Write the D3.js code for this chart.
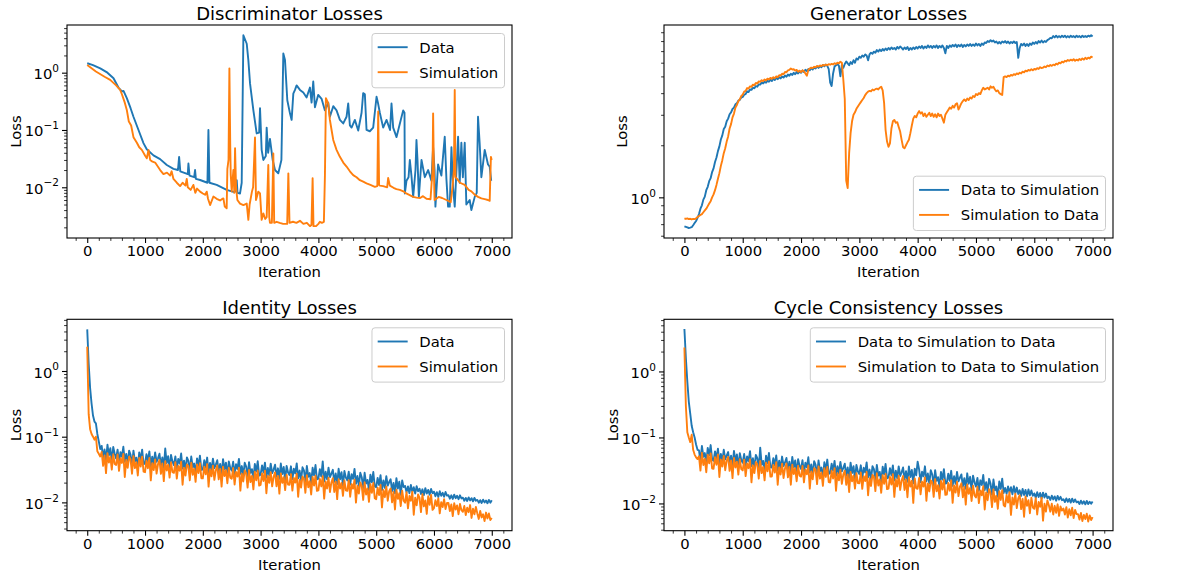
<!DOCTYPE html>
<html><head><meta charset="utf-8">
<script src="https://cdn.jsdelivr.net/npm/d3@7/dist/d3.min.js"></script>
<style>
body{margin:0;background:#fff;}
svg{display:block;font-family:"DejaVu Sans",sans-serif;}
</style></head><body>
<svg id="c" width="1188" height="580"></svg>
<script>
// ---------------- data ----------------
const xTickValues = [0,1000,2000,3000,4000,5000,6000,7000];
const xMinorTickValues = [-200,200,400,600,800,1200,1400,1600,1800,2200,2400,2600,2800,3200,3400,3600,3800,4200,4400,4600,4800,5200,5400,5600,5800,6200,6400,6600,6800,7200];
const yTickDecades = [1,0.1,0.01];
const colors = ["#1f77b4","#ff7f0e"];

// Discriminator losses: [iteration, loss]
const discData = [[0,1.46],[100,1.35],[225,1.19],[350,1.0],[455,0.8],[540,0.55],[600,0.47],[628,0.48],[685,0.36],[750,0.24],[800,0.17],[887,0.1],[973,0.059],[1030,0.046],[1146,0.036],[1261,0.031],[1377,0.0245],[1492,0.021],[1570,0.02],[1590,0.034],[1610,0.019],[1740,0.017],[1751,0.026],[1770,0.016],[1850,0.015],[1866,0.02],[1880,0.014],[1953,0.0134],[2080,0.012],[2097,0.1],[2115,0.012],[2240,0.011],[2413,0.009],[2529,0.0083],[2575,0.0085],[2587,0.0133],[2600,0.008],[2644,0.0078],[2673,0.012],[2702,4.5],[2760,3.2],[2788,1.66],[2817,0.65],[2875,0.22],[2932,0.087],[2975,0.09],[2990,0.24],[3005,0.1],[3018,0.045],[3047,0.03],[3090,0.035],[3105,0.11],[3130,0.04],[3162,0.07],[3209,0.03],[3249,0.02],[3306,0.0175],[3360,0.03],[3393,2.17],[3422,1.66],[3462,0.33],[3508,0.195],[3537,0.15],[3566,0.43],[3595,0.5],[3623,0.6],[3681,0.5],[3739,0.45],[3796,0.37],[3854,0.55],[3882,0.3],[3911,0.7],[3940,0.25],[3997,0.41],[4055,0.35],[4112,0.22],[4170,0.3],[4199,0.17],[4257,0.26],[4314,0.22],[4372,0.15],[4430,0.13],[4487,0.17],[4516,0.29],[4545,0.12],[4574,0.11],[4631,0.15],[4689,0.098],[4747,0.2],[4775,0.44],[4804,0.42],[4833,0.1],[4890,0.095],[4948,0.11],[5006,0.38],[5030,0.3],[5063,0.2],[5121,0.11],[5179,0.15],[5240,0.1],[5265,0.29],[5294,0.11],[5352,0.075],[5410,0.13],[5467,0.22],[5490,0.2],[5496,0.0078],[5524,0.013],[5560,0.015],[5582,0.03],[5610,0.016],[5640,0.0068],[5680,0.02],[5697,0.067],[5715,0.03],[5738,0.0068],[5784,0.03],[5841,0.015],[5899,0.02],[5956,0.013],[5985,0.05],[6010,0.02],[6025,0.0046],[6071,0.025],[6128,0.016],[6186,0.076],[6215,0.014],[6244,0.0046],[6273,0.0046],[6302,0.05],[6330,0.01],[6359,0.0046],[6417,0.076],[6445,0.012],[6474,0.06],[6500,0.015],[6532,0.06],[6560,0.005],[6618,0.006],[6647,0.004],[6705,0.0068],[6740,0.008],[6762,0.17],[6790,0.06],[6820,0.015],[6878,0.045],[6935,0.025],[6964,0.023],[6990,0.013]];
const discSim = [[0,1.36],[150,1.05],[300,0.85],[397,0.75],[500,0.6],[570,0.5],[600,0.42],[650,0.3],[686,0.22],[720,0.14],[760,0.12],[800,0.075],[859,0.06],[900,0.05],[945,0.045],[1000,0.036],[1031,0.032],[1060,0.045],[1089,0.03],[1130,0.028],[1175,0.027],[1262,0.02],[1319,0.017],[1380,0.018],[1434,0.016],[1460,0.019],[1492,0.014],[1550,0.012],[1607,0.0105],[1650,0.012],[1700,0.0107],[1722,0.014],[1740,0.01],[1790,0.009],[1837,0.011],[1870,0.008],[1900,0.0095],[1953,0.0084],[2000,0.0078],[2040,0.0074],[2068,0.0084],[2090,0.0063],[2126,0.0049],[2183,0.0069],[2240,0.0063],[2298,0.0059],[2330,0.0062],[2356,0.0064],[2380,0.0046],[2413,0.0043],[2425,0.021],[2445,0.03],[2460,1.19],[2475,0.05],[2483,0.017],[2500,0.0085],[2529,0.02],[2545,0.008],[2558,0.048],[2575,0.01],[2598,0.006],[2644,0.0052],[2702,0.0049],[2760,0.0052],[2788,0.0027],[2810,0.005],[2850,0.0084],[2870,0.01],[2903,0.074],[2920,0.006],[2960,0.0084],[2990,0.0078],[3018,0.0027],[3047,0.0035],[3080,0.0028],[3105,0.003],[3133,0.0245],[3150,0.003],[3162,0.0024],[3195,0.0024],[3220,0.039],[3235,0.0024],[3278,0.0025],[3330,0.0024],[3390,0.0023],[3460,0.0023],[3480,0.0175],[3500,0.0024],[3560,0.0025],[3620,0.0024],[3681,0.0026],[3740,0.0023],[3800,0.0024],[3854,0.0021],[3880,0.0022],[3900,0.0144],[3915,0.0021],[3960,0.0021],[4000,0.0023],[4026,0.0025],[4060,0.0024],[4095,0.0025],[4113,0.016],[4130,0.36],[4170,0.29],[4199,0.15],[4228,0.1],[4257,0.067],[4314,0.045],[4372,0.034],[4430,0.027],[4487,0.023],[4545,0.019],[4602,0.0163],[4660,0.015],[4718,0.0133],[4775,0.0125],[4833,0.0117],[4900,0.011],[4977,0.0102],[5020,0.0105],[5035,0.21],[5050,0.011],[5063,0.0107],[5121,0.0105],[5190,0.01],[5207,0.0145],[5236,0.0107],[5300,0.0098],[5350,0.0093],[5409,0.009],[5470,0.0085],[5520,0.0078],[5580,0.0073],[5640,0.0068],[5700,0.0066],[5760,0.0065],[5810,0.007],[5870,0.0063],[5940,0.0062],[5975,0.02],[5985,0.195],[5998,0.02],[6010,0.006],[6080,0.0068],[6140,0.0065],[6215,0.006],[6290,0.0055],[6320,0.01],[6330,0.013],[6345,0.02],[6359,0.5],[6372,0.015],[6400,0.014],[6450,0.012],[6532,0.011],[6600,0.009],[6647,0.0085],[6700,0.0075],[6762,0.0068],[6820,0.0064],[6878,0.0062],[6935,0.006],[6964,0.0058],[6985,0.034],[6998,0.03]];

// Generator / identity / cycle losses: one value every iterStep iterations, 0..7000
const iterStep = 25;
const genDataToSim = [0.68,0.675,0.67,0.665,0.668,0.672,0.69,0.71,0.73,0.76,
0.8,0.86,0.9,0.97,1.01,1.1,1.15,1.24,1.29,1.4,
1.47,1.6,1.7,1.85,1.97,2.16,2.28,2.48,2.56,2.75,
2.85,3.02,3.1,3.24,3.3,3.45,3.5,3.62,3.66,3.78,
3.8,3.92,3.95,4.1,4.06,4.2,4.18,4.3,4.27,4.4,
4.36,4.5,4.48,4.6,4.55,4.65,4.6,4.72,4.66,4.78,
4.7,4.85,4.76,4.9,4.82,4.95,4.87,5.0,4.92,5.06,
4.98,5.12,5.05,5.18,5.1,5.24,5.15,5.3,5.2,5.35,
5.25,5.4,5.3,5.46,5.36,5.52,5.42,5.58,5.48,5.62,
5.55,5.7,5.6,5.75,5.65,5.82,5.72,5.85,5.75,5.5,
4.6,4.4,5.2,5.7,5.8,5.9,5.75,5.0,5.8,5.6,
5.9,6.1,5.95,5.8,6.05,5.9,6.2,6.0,6.35,6.25,
6.5,6.4,6.6,6.5,6.7,6.6,6.2,6.7,6.85,6.75,
6.95,6.85,7.1,6.95,7.15,7.0,7.2,7.05,7.25,7.1,
7.3,7.15,7.35,7.2,7.3,7.15,7.4,7.25,7.45,7.3,
7.15,7.35,7.2,7.4,7.1,7.3,7.15,7.35,7.2,7.4,
7.25,7.45,7.3,7.5,7.25,7.45,7.3,7.55,7.35,7.5,
7.3,7.5,7.35,7.55,7.3,7.5,7.35,7.55,7.3,6.8,
7.5,7.3,7.55,7.4,7.6,7.45,7.65,7.4,7.6,7.45,
7.65,7.4,7.6,7.45,7.65,7.5,7.7,7.5,7.65,7.5,
7.75,7.55,7.7,7.5,7.75,7.6,7.85,7.8,8.0,7.9,
8.1,7.95,8.05,7.85,7.95,7.75,7.9,7.75,7.95,7.85,
8.0,7.8,7.95,7.75,7.9,7.8,7.95,7.8,7.9,6.4,
7.3,7.7,7.55,7.75,7.5,7.7,7.5,7.75,7.6,7.85,
7.7,7.9,7.75,8.0,7.85,8.05,7.85,8.0,7.9,8.1,
8.2,8.35,8.3,8.55,8.4,8.6,8.4,8.55,8.4,8.6,
8.45,8.6,8.4,8.55,8.4,8.6,8.45,8.55,8.4,8.6,
8.45,8.55,8.4,8.6,8.45,8.55,8.45,8.6,8.5,8.65,
8.5];
const genSimToData = [0.756,0.75,0.755,0.748,0.752,0.745,0.75,0.748,0.755,0.77,
0.78,0.79,0.8,0.82,0.84,0.86,0.89,0.92,0.95,1.0,
1.04,1.1,1.18,1.28,1.38,1.52,1.64,1.8,1.92,2.1,
2.25,2.5,2.65,2.9,3.05,3.3,3.42,3.6,3.68,3.85,
3.92,4.08,4.12,4.28,4.25,4.38,4.35,4.48,4.45,4.58,
4.55,4.68,4.65,4.75,4.7,4.8,4.74,4.85,4.8,4.9,
4.84,4.95,4.88,5.0,4.95,5.08,5.05,5.18,5.15,5.3,
5.28,5.42,5.45,5.55,5.48,5.5,5.4,5.45,5.32,5.4,
5.3,5.42,5.35,5.2,5.05,5.45,5.55,5.62,5.58,5.68,
5.65,5.75,5.7,5.78,5.74,5.82,5.78,5.85,5.8,5.88,
5.84,5.9,5.86,5.95,5.9,6.0,5.95,6.08,6.0,4.8,
3.7,1.25,1.13,1.8,2.35,2.75,3.0,3.1,3.25,3.35,
3.45,3.55,3.65,3.75,3.9,4.0,4.08,4.12,4.1,4.2,
4.15,4.22,4.25,4.2,4.3,4.36,4.15,3.5,2.45,2.1,
1.96,2.05,2.5,2.75,2.8,2.7,2.72,2.55,2.4,2.15,
1.95,1.92,2.0,2.08,2.15,2.35,2.6,2.85,2.95,2.9,
3.05,3.15,3.05,3.1,2.95,3.05,2.92,3.0,3.08,2.95,
3.05,2.92,3.02,2.9,3.05,2.95,3.0,2.85,2.7,3.0,
3.1,3.2,3.3,3.25,3.38,3.3,3.45,3.5,3.22,3.35,
3.5,3.6,3.68,3.6,3.72,3.65,3.78,3.72,3.85,3.8,
3.95,3.9,4.0,3.95,4.15,4.3,4.2,4.25,4.3,4.2,
4.38,4.3,4.35,4.2,4.1,4.15,4.0,3.95,3.9,4.95,
5.0,4.95,5.05,5.0,5.1,5.05,5.15,5.1,5.2,5.15,
5.25,5.2,5.32,5.28,5.4,5.35,5.45,5.4,5.5,5.42,
5.52,5.48,5.58,5.52,5.65,5.58,5.62,5.7,5.65,5.78,
5.72,5.82,5.75,5.85,5.8,5.92,5.86,6.0,5.95,6.08,
6.02,6.15,6.1,6.22,6.15,6.25,6.18,6.28,6.15,6.25,
6.18,6.3,6.22,6.35,6.25,6.4,6.3,6.42,6.35,6.5,
6.45];
const identData = [4.3,1.3,0.55,0.32,0.21,0.17,0.16,0.11,0.085,0.065,
0.0725,0.0476,0.0638,0.0441,0.0754,0.0522,0.0667,0.0418,0.0696,0.0551,
0.0468,0.0634,0.0406,0.0582,0.0494,0.0702,0.0416,0.0546,0.0385,0.0614,
0.0528,0.036,0.0614,0.0422,0.048,0.0336,0.0576,0.0442,0.0634,0.0384,
0.0391,0.0543,0.0423,0.0598,0.0354,0.0497,0.0382,0.0575,0.0414,0.0469,
0.055,0.0361,0.0484,0.0334,0.066,0.0396,0.0506,0.0317,0.0528,0.0418,
0.0369,0.05,0.032,0.0459,0.039,0.0554,0.0328,0.0431,0.0303,0.0484,
0.0429,0.0293,0.0499,0.0343,0.039,0.0273,0.0468,0.0359,0.0515,0.0312,
0.0315,0.0437,0.034,0.0481,0.0285,0.04,0.0307,0.0463,0.0333,0.0377,
0.0438,0.0287,0.0385,0.0266,0.0455,0.0315,0.0403,0.0252,0.042,0.0333,
0.0306,0.0415,0.0265,0.0381,0.0323,0.0459,0.0272,0.0357,0.0252,0.0401,
0.0352,0.024,0.041,0.0282,0.032,0.0224,0.0384,0.0294,0.0422,0.0256,
0.0264,0.0366,0.0285,0.0403,0.0239,0.0335,0.0257,0.0388,0.0279,0.0316,
0.0375,0.0246,0.033,0.0228,0.039,0.027,0.0345,0.0216,0.036,0.0285,
0.0261,0.0354,0.0226,0.0325,0.0276,0.0392,0.0232,0.0305,0.0215,0.0342,
0.0308,0.021,0.0358,0.0246,0.028,0.0196,0.0336,0.0258,0.037,0.0224,
0.023,0.0319,0.0248,0.042,0.0208,0.0292,0.0224,0.0338,0.0243,0.0275,
0.0313,0.0205,0.0275,0.019,0.0325,0.0225,0.0288,0.018,0.03,0.0238,
0.0216,0.0293,0.0187,0.0269,0.0228,0.0324,0.0192,0.0252,0.0178,0.0283,
0.0242,0.0165,0.0282,0.0194,0.022,0.0154,0.0264,0.0202,0.029,0.0176,
0.017,0.0236,0.0184,0.026,0.0154,0.0216,0.0166,0.025,0.018,0.0204,
0.0225,0.0148,0.0198,0.0137,0.0234,0.0162,0.0207,0.013,0.0216,0.0171,
0.0178,0.0142,0.0175,0.0138,0.0184,0.0145,0.017,0.0136,0.0176,0.0148,
0.0162,0.0134,0.0158,0.0129,0.0165,0.0136,0.0155,0.0131,0.016,0.0138,
0.0145,0.0124,0.0143,0.0121,0.0148,0.0126,0.014,0.0122,0.0144,0.0127,
0.0129,0.0114,0.0128,0.0113,0.0131,0.0116,0.0126,0.0112,0.0128,0.0115,
0.0118,0.0106,0.0117,0.0105,0.0119,0.0107,0.0116,0.0104,0.0117,0.0106,
0.0109,0.0099,0.0108,0.0098,0.011,0.01,0.0107,0.0097,0.0109,0.0099,
0.0108];
const identSim = [2.35,0.22,0.13,0.11,0.1,0.09,0.1,0.06,0.055,0.05,
0.0585,0.036,0.0518,0.0279,0.0563,0.0405,0.0495,0.0315,0.054,0.0383,
0.037,0.0538,0.0302,0.047,0.0399,0.0546,0.0244,0.0441,0.0336,0.0496,
0.0449,0.0273,0.0507,0.0332,0.041,0.0257,0.0476,0.0351,0.0495,0.0293,
0.0288,0.0432,0.0331,0.0475,0.0216,0.0396,0.031,0.045,0.0274,0.0382,
0.0442,0.0272,0.0391,0.0211,0.0425,0.0306,0.0374,0.0238,0.0408,0.0289,
0.0282,0.041,0.023,0.0358,0.0304,0.0416,0.0186,0.0336,0.0256,0.0378,
0.0357,0.0217,0.0403,0.0264,0.0326,0.0205,0.0378,0.0279,0.0394,0.0233,
0.0232,0.0348,0.0267,0.0383,0.0174,0.0319,0.0249,0.0363,0.022,0.0307,
0.0364,0.0224,0.0322,0.0174,0.035,0.0252,0.0308,0.0196,0.0336,0.0238,
0.0229,0.0333,0.0187,0.0291,0.0247,0.0338,0.0151,0.0273,0.0208,0.0307,
0.0276,0.0168,0.0312,0.0204,0.0252,0.0158,0.0293,0.0216,0.0305,0.018,
0.0184,0.0276,0.0212,0.0304,0.0138,0.0253,0.0198,0.0288,0.0175,0.0244,
0.0286,0.0176,0.0253,0.0136,0.0275,0.0198,0.0242,0.0154,0.0264,0.0187,
0.0185,0.0269,0.0151,0.0235,0.02,0.0273,0.0122,0.0221,0.0168,0.0248,
0.023,0.014,0.026,0.017,0.021,0.0132,0.0244,0.018,0.0254,0.015,
0.0152,0.0228,0.0175,0.0251,0.0114,0.0209,0.0163,0.0238,0.0144,0.0201,
0.0234,0.0144,0.0207,0.0112,0.0225,0.0162,0.0198,0.0126,0.0216,0.0153,
0.015,0.0218,0.0122,0.019,0.0162,0.0221,0.0099,0.0179,0.0136,0.0201,
0.0178,0.0109,0.0202,0.0132,0.0163,0.0102,0.0189,0.014,0.0197,0.0116,
0.0112,0.0168,0.0129,0.0185,0.0084,0.0154,0.012,0.0175,0.0106,0.0148,
0.0163,0.01,0.0144,0.0078,0.0156,0.0113,0.0138,0.0088,0.015,0.0106,
0.0099,0.0143,0.0081,0.0125,0.0106,0.0146,0.0065,0.0118,0.009,0.0132,
0.0117,0.0071,0.0133,0.0087,0.0107,0.0067,0.0124,0.0092,0.013,0.0077,
0.0082,0.0108,0.0088,0.0115,0.0068,0.0101,0.0085,0.0112,0.0079,0.0098,
0.0098,0.0074,0.0093,0.0062,0.0097,0.0078,0.009,0.0066,0.0095,0.0076,
0.0072,0.0088,0.0064,0.0083,0.0071,0.0091,0.0058,0.008,0.0066,0.0085,
0.0068,0.0056,0.0074,0.0059,0.0066,0.0052,0.007,0.0057,0.0068,0.0054,
0.0058];
const cycleData = [4.4,1.6,0.7,0.35,0.23,0.15,0.12,0.1,0.078,0.065,
0.0638,0.0435,0.0742,0.051,0.058,0.0406,0.0696,0.0534,0.0766,0.0464,
0.0442,0.0614,0.0478,0.0676,0.04,0.0562,0.0432,0.065,0.0468,0.053,
0.06,0.0394,0.0528,0.0365,0.0624,0.0432,0.0552,0.0346,0.0576,0.0456,
0.0414,0.0561,0.0359,0.0515,0.0437,0.0621,0.0368,0.0483,0.034,0.0543,
0.0484,0.033,0.07,0.0387,0.044,0.0308,0.0528,0.0405,0.0581,0.0352,
0.0349,0.0484,0.0377,0.0533,0.0316,0.0443,0.034,0.0513,0.0369,0.0418,
0.0488,0.032,0.0429,0.0296,0.0507,0.0351,0.0449,0.0281,0.0468,0.0371,
0.0333,0.0451,0.0289,0.0414,0.0352,0.05,0.0296,0.0389,0.0274,0.0437,
0.0385,0.0263,0.0448,0.0308,0.035,0.0245,0.042,0.0322,0.0462,0.028,
0.0289,0.0401,0.0313,0.0442,0.0262,0.0367,0.0282,0.0425,0.0306,0.0347,
0.04,0.0262,0.0352,0.0243,0.0416,0.0288,0.0368,0.023,0.0384,0.0304,
0.0279,0.0378,0.0242,0.0347,0.0295,0.0419,0.0248,0.0326,0.0229,0.0366,
0.033,0.0225,0.0384,0.0264,0.03,0.021,0.036,0.0276,0.0396,0.024,
0.0247,0.0342,0.0267,0.0377,0.0223,0.0313,0.0241,0.0363,0.0261,0.0296,
0.035,0.023,0.0308,0.0213,0.0364,0.0252,0.0322,0.0202,0.0336,0.0266,
0.043,0.0329,0.0211,0.0302,0.0257,0.0365,0.0216,0.0284,0.02,0.0319,
0.0275,0.0188,0.032,0.022,0.025,0.0175,0.03,0.023,0.033,0.02,
0.0204,0.0283,0.0221,0.0312,0.0185,0.0259,0.0199,0.03,0.0216,0.0245,
0.0275,0.018,0.0242,0.0167,0.0286,0.0198,0.0253,0.0158,0.0264,0.0209,
0.018,0.0244,0.0156,0.0224,0.019,0.027,0.016,0.021,0.0148,0.0236,
0.0198,0.0135,0.023,0.0158,0.018,0.0126,0.0216,0.0166,0.0238,0.0144,
0.0172,0.014,0.0181,0.0145,0.0176,0.0137,0.0183,0.0142,0.0174,0.0139,
0.0158,0.013,0.0166,0.0134,0.016,0.0128,0.0163,0.0133,0.0157,0.0131,
0.0142,0.0122,0.0148,0.0125,0.0144,0.0119,0.0146,0.0123,0.0141,0.012,
0.0127,0.0113,0.0131,0.0115,0.0128,0.011,0.013,0.0114,0.0126,0.0112,
0.0116,0.0105,0.0119,0.0106,0.0117,0.0103,0.0118,0.0105,0.0115,0.0104,
0.0107,0.0098,0.011,0.0099,0.0108,0.0097,0.0109,0.0098,0.0106,0.0099,
0.0107];
const cycleSim = [2.3,0.3,0.12,0.1,0.085,0.11,0.065,0.055,0.05,0.047,
0.0518,0.0315,0.0585,0.0383,0.0473,0.0297,0.0549,0.0405,0.0572,0.0338,
0.0336,0.0504,0.0386,0.0554,0.0252,0.0462,0.0361,0.0525,0.0319,0.0445,
0.0507,0.0312,0.0449,0.0242,0.0488,0.0351,0.0429,0.0273,0.0468,0.0332,
0.0317,0.0461,0.0259,0.0403,0.0342,0.0468,0.0209,0.0378,0.0288,0.0425,
0.0391,0.0238,0.0442,0.0289,0.0357,0.0224,0.0415,0.0306,0.0432,0.0255,
0.0256,0.0384,0.0294,0.0422,0.0192,0.0352,0.0275,0.04,0.0243,0.0339,
0.0403,0.0248,0.0357,0.0192,0.0388,0.0279,0.0341,0.0217,0.0372,0.0264,
0.0255,0.0371,0.0209,0.0325,0.0276,0.0377,0.0168,0.0305,0.0232,0.0342,
0.0322,0.0196,0.0364,0.0238,0.0294,0.0185,0.0342,0.0252,0.0356,0.021,
0.0208,0.0312,0.0239,0.0343,0.0156,0.0286,0.0224,0.0325,0.0198,0.0276,
0.0312,0.0192,0.0276,0.0149,0.03,0.0216,0.0264,0.0168,0.0288,0.0204,
0.0202,0.0294,0.0166,0.0258,0.0219,0.0299,0.0133,0.0242,0.0184,0.0271,
0.0253,0.0154,0.0286,0.0187,0.0231,0.0145,0.0268,0.0198,0.0279,0.0165,
0.0168,0.0252,0.0193,0.0277,0.0126,0.0231,0.0181,0.0263,0.016,0.0223,
0.026,0.016,0.023,0.0124,0.025,0.018,0.022,0.0102,0.024,0.017,
0.0167,0.0243,0.0137,0.0213,0.018,0.0247,0.011,0.02,0.0152,0.0224,
0.0207,0.0126,0.0234,0.0153,0.0189,0.0119,0.022,0.0162,0.0229,0.0135,
0.0136,0.0204,0.0156,0.0224,0.0102,0.0187,0.0146,0.0213,0.0129,0.018,
0.0202,0.0124,0.0178,0.0096,0.0194,0.014,0.0171,0.0109,0.0186,0.0132,
0.0123,0.0179,0.0101,0.0157,0.0133,0.0182,0.0081,0.0147,0.0112,0.0165,
0.0144,0.0088,0.0163,0.0106,0.0131,0.0083,0.0153,0.0113,0.0159,0.0094,
0.009,0.0134,0.0103,0.0148,0.0067,0.0123,0.0096,0.014,0.0085,0.0119,
0.0133,0.0082,0.0117,0.0063,0.0128,0.0092,0.0112,0.0071,0.0122,0.0087,
0.0083,0.012,0.0068,0.0105,0.0089,0.0122,0.0055,0.0099,0.0075,0.0111,
0.0094,0.0075,0.0099,0.0068,0.0092,0.0072,0.0097,0.0065,0.009,0.0078,
0.0084,0.0068,0.0088,0.0061,0.0082,0.0066,0.0086,0.006,0.008,0.0069,
0.0069,0.0057,0.0072,0.0054,0.0067,0.0058,0.007,0.0053,0.0066,0.0056,
0.0062];

const stepped = vals => vals.map((v,i)=>[i*iterStep, v]);

// ---------------- layout ----------------
const FS = 14.8, TFS = 18;
const panels = [
  {title:"Discriminator Losses", l:67, t:25, r:512, b:238, yDom:[Math.pow(10,-2.885),Math.pow(10,0.832)], yMajor:yTickDecades, ylabOff:46.5,
   series:[{name:"Data",pts:discData},{name:"Simulation",pts:discSim}], legend:"ur"},
  {title:"Generator Losses", l:664, t:25, r:1113, b:238, yDom:[Math.pow(10,-0.235),Math.pow(10,0.996)], yMajor:[1], ylabOff:37.5,
   series:[{name:"Data to Simulation",pts:stepped(genDataToSim)},{name:"Simulation to Data",pts:stepped(genSimToData)}], legend:"lr"},
  {title:"Identity Losses", l:67, t:319.3, r:512, b:530.7, yDom:[Math.pow(10,-2.431),Math.pow(10,0.787)], yMajor:yTickDecades, ylabOff:46.3,
   series:[{name:"Data",pts:stepped(identData)},{name:"Simulation",pts:stepped(identSim)}], legend:"ur"},
  {title:"Cycle Consistency Losses", l:664, t:319.3, r:1113, b:530.7, yDom:[Math.pow(10,-2.413),Math.pow(10,0.79)], yMajor:yTickDecades, ylabOff:46,
   series:[{name:"Data to Simulation to Data",pts:stepped(cycleData)},{name:"Simulation to Data to Simulation",pts:stepped(cycleSim)}], legend:"ur"}
];

const svg = d3.select("#c");
svg.append("rect").attr("width",1188).attr("height",580).attr("fill","#fff");

panels.forEach((p,pi)=>{
  const x = d3.scaleLinear().domain([-350,7350]).range([p.l,p.r]);
  const y = d3.scaleLog().domain(p.yDom).range([p.b,p.t]);
  const g = svg.append("g");
  const cid = "clip"+pi;
  svg.append("defs").append("clipPath").attr("id",cid).append("rect")
    .attr("x",p.l).attr("y",p.t).attr("width",p.r-p.l).attr("height",p.b-p.t);

  const line = d3.line().x(d=>x(d[0])).y(d=>y(d[1]));
  p.series.forEach((s,si)=>{
    g.append("path").datum(s.pts).attr("d",line).attr("fill","none")
      .attr("stroke",colors[si]).attr("stroke-width",1.9)
      .attr("stroke-linejoin","round").attr("stroke-linecap","butt")
      .attr("clip-path",`url(#${cid})`);
  });

  // minor y ticks
  const [lo,hi] = p.yDom;
  const minors = [];
  for(let e=Math.floor(Math.log10(lo)); e<=Math.ceil(Math.log10(hi)); e++){
    for(let k=2;k<=9;k++){ const v=k*Math.pow(10,e); if(v>=lo && v<=hi) minors.push(v); }
  }
  const gyMin = g.append("g").attr("transform",`translate(${p.l},0)`)
    .call(d3.axisLeft(y).tickValues(minors).tickSize(2.9).tickFormat(()=>""));
  gyMin.select(".domain").remove();
  gyMin.selectAll("line").attr("stroke","#000").attr("stroke-width",0.8);

  const gy = g.append("g").attr("transform",`translate(${p.l},0)`)
    .call(d3.axisLeft(y).tickValues(p.yMajor).tickSize(5).tickFormat(()=>""));
  gy.select(".domain").remove();
  gy.selectAll("line").attr("stroke","#000").attr("stroke-width",1.1);
  gy.selectAll(".tick text").each(function(d){
    const t = d3.select(this).attr("x",-8).attr("y",6).attr("dy",null)
      .attr("text-anchor","end").attr("fill","#000")
      .style("font-family","DejaVu Sans").style("font-size",FS+"px");
    const e = Math.round(Math.log10(d));
    t.append("tspan").text("10");
    t.append("tspan").attr("dy",-7.3).style("font-size","10.5px").text(e<0 ? "\u2212"+(-e) : String(e));
  });

  // x ticks
  const gxMin = g.append("g").attr("transform",`translate(0,${p.b})`)
    .call(d3.axisBottom(x).tickValues(xMinorTickValues).tickSize(2.9).tickFormat(()=>""));
  gxMin.select(".domain").remove();
  gxMin.selectAll("line").attr("stroke","#000").attr("stroke-width",0.8);
  const gx = g.append("g").attr("transform",`translate(0,${p.b})`)
    .call(d3.axisBottom(x).tickValues(xTickValues).tickSize(5).tickFormat(d3.format("d")));
  gx.select(".domain").remove();
  gx.selectAll("line").attr("stroke","#000").attr("stroke-width",1.1);
  gx.selectAll(".tick text").attr("y",18.2).attr("dy",null).attr("fill","#000")
    .style("font-family","DejaVu Sans").style("font-size",FS+"px");

  // spines
  g.append("rect").attr("x",p.l).attr("y",p.t).attr("width",p.r-p.l).attr("height",p.b-p.t)
    .attr("fill","none").attr("stroke","#000").attr("stroke-width",1.1);

  // labels
  const cx = (p.l+p.r)/2, cy=(p.t+p.b)/2;
  g.append("text").attr("x",cx).attr("y",p.t-5.5).attr("text-anchor","middle")
    .style("font-size",TFS+"px").attr("fill","#000").text(p.title);
  g.append("text").attr("x",cx).attr("y",p.b+39).attr("text-anchor","middle")
    .style("font-size",FS+"px").attr("fill","#000").text("Iteration");
  g.append("text").attr("transform",`translate(${p.l-p.ylabOff},${cy}) rotate(-90)`)
    .attr("text-anchor","middle").style("font-size",FS+"px").attr("fill","#000").text("Loss");

  // legend
  const lg = g.append("g");
  const texts = p.series.map((s,si)=>lg.append("text").style("font-size",FS+"px").attr("fill","#000").text(s.name));
  const tw = d3.max(texts, t=>t.node().getComputedTextLength());
  const W = tw + 53.7, H = 54.3, pad = 7.5;
  const lx = p.r - pad - W;
  const ly = p.legend==="ur" ? p.t + pad + 1 : p.b - pad - H;
  lg.insert("rect",":first-child").attr("x",lx).attr("y",ly).attr("width",W).attr("height",H)
    .attr("rx",3).attr("fill","#fff").attr("fill-opacity",0.8).attr("stroke","#cccccc").attr("stroke-width",1);
  p.series.forEach((s,si)=>{
    const yy = ly + 13.7 + si*25;
    lg.append("line").attr("x1",lx+5.7).attr("x2",lx+35.7).attr("y1",yy).attr("y2",yy)
      .attr("stroke",colors[si]).attr("stroke-width",1.9);
    texts[si].attr("x",lx+47.4).attr("y",yy+5.3);
  });
});
</script>
</body></html>
